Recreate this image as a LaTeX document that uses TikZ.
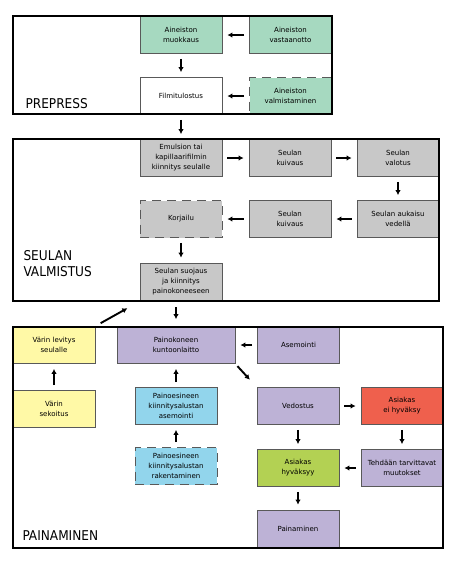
\documentclass[tikz,border=0pt]{standalone}
\usepackage{fontspec}
\setmainfont{DejaVu Sans}
\newfontfamily\phasefont{DejaVu Sans Condensed}
\usetikzlibrary{arrows.meta, calc}
\definecolor{prepress}{HTML}{A6D9C0}
\definecolor{screen}  {HTML}{C8C8C8}
\definecolor{ink}     {HTML}{FFF9A6}
\definecolor{press}   {HTML}{BDB2D6}
\definecolor{base}    {HTML}{92D5EC}
\definecolor{reject}  {HTML}{EF604D}
\definecolor{accept}  {HTML}{B3D153}
\tikzset{
  stage/.style={draw=black!65, line width=0.8pt, minimum width=82pt, minimum height=37pt,
    inner sep=1pt, align=center, font=\fontsize{7}{10}\selectfont},
  planned/.style={stage, dash pattern=on 9pt off 6pt},
  phase/.style={draw=black, line width=1.6pt},
  flow/.style={line width=1.9pt, -{Latex[length=5pt,width=5.5pt]}, shorten <=5pt, shorten >=5pt},
  phasename/.style={anchor=base west, align=left, font=\phasefont\fontsize{13.5}{16}\selectfont}
}

\begin{document}
\begin{tikzpicture}[x=1pt, y=-1pt]
  \useasboundingbox (0,0) rectangle (467,566);

  \node[stage, fill=prepress] (muok) at (181,35) {Aineiston\\muokkaus};
  \node[stage, fill=prepress] (vast) at (290.5,35) {Aineiston\\vastaanotto};
  \node[stage, fill=white] (filmi) at (181,96) {Filmitulostus};
  \node[planned, fill=prepress] (valm) at (290.5,96) {Aineiston\\valmistaminen};

  \node[stage, fill=screen] (emul) at (181,158) {Emulsion tai\\kapillaarifilmin\\kiinnitys seulalle};
  \node[stage, fill=screen] (kuiv1) at (290,158) {Seulan\\kuivaus};
  \node[stage, fill=screen] (valo) at (398,158) {Seulan\\valotus};
  \node[stage, fill=screen] (auka) at (398,219) {Seulan aukaisu\\vedellä};
  \node[stage, fill=screen] (kuiv2) at (290,219) {Seulan\\kuivaus};
  \node[planned, fill=screen] (korj) at (181,219) {Korjailu};
  \node[stage, fill=screen, minimum height=38pt] (suoj) at (181,282) {Seulan suojaus\\ja kiinnitys\\painokoneeseen};

  \node[stage, fill=ink] (lev) at (54,345) {Värin levitys\\seulalle};
  \node[stage, fill=ink] (sek) at (54,409) {Värin\\sekoitus};
  \node[stage, fill=press, minimum width=118pt] (kunto) at (176,345) {Painokoneen\\kuntoonlaitto};
  \node[stage, fill=press] (asem) at (298.5,345) {Asemointi};
  \node[stage, fill=base] (kasem) at (176,406) {Painoesineen\\kiinnitysalustan\\asemointi};
  \node[planned, fill=base] (krak) at (176,466) {Painoesineen\\kiinnitysalustan\\rakentaminen};
  \node[stage, fill=press] (vedo) at (298,406) {Vedostus};
  \node[stage, fill=reject] (eihy) at (402,406) {Asiakas\\ei hyväksy};
  \node[stage, fill=accept] (hyv) at (298,468) {Asiakas\\hyväksyy};
  \node[stage, fill=press] (teh) at (402,468) {Tehdään tarvittavat\\muutokset};
  \node[stage, fill=press, minimum height=38pt] (pain) at (298,529) {Painaminen};

  \draw[phase] (13,16) rectangle (332,114);
  \draw[phase] (13,139) rectangle (439,301);
  \draw[phase] (13,327) rectangle (443,548);
  \node[phasename] (l1) at (22,108) {PREPRESS};
  \node[phasename] (l2) at (20,276) {SEULAN\\VALMISTUS};
  \node[phasename] (l3) at (19,540) {PAINAMINEN};

  \foreach \a/\b in {vast/muok, muok/filmi, valm/filmi, filmi/emul, emul/kuiv1, kuiv1/valo,
      valo/auka, auka/kuiv2, kuiv2/korj, korj/suoj, sek/lev, kasem/kunto, krak/kasem,
      asem/kunto, vedo/eihy, eihy/teh, vedo/hyv, teh/hyv, hyv/pain}
    \draw[flow] (\a) -- (\b);
  \draw[flow, shorten <=6pt, shorten >=7pt] (suoj.south -| kunto) -- (kunto);
  \draw[flow, shorten <=6pt, shorten >=14pt] (lev.north east) -- (suoj.south west);
  \draw[flow, shorten <=3pt, shorten >=10pt] (kunto.south east) -- (vedo.north west);
\end{tikzpicture}
\end{document}
